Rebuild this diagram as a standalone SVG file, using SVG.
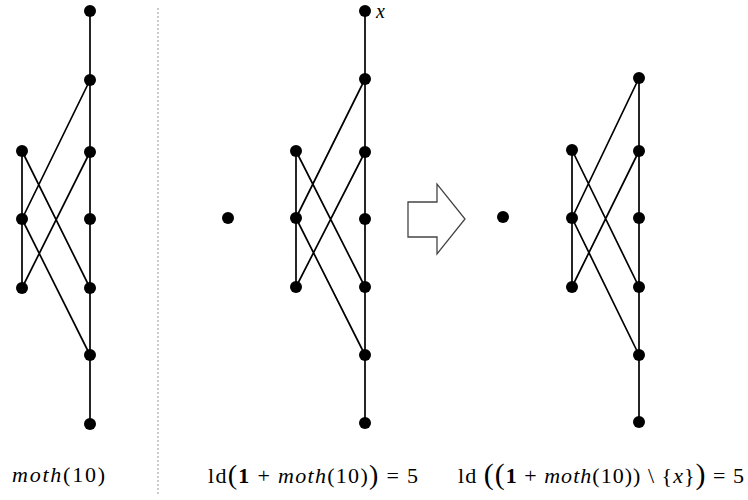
<svg xmlns="http://www.w3.org/2000/svg" width="748" height="500" viewBox="0 0 748 500">
<style>
.e{stroke:#000;stroke-width:1.7;fill:none}
.n{fill:#000}
.t{font-family:"Liberation Serif","DejaVu Serif",serif;font-size:22px;fill:#000}
.i{font-style:italic}
.b{font-weight:bold}
</style>
<rect width="748" height="500" fill="#fff"/>
<line x1="158" y1="8" x2="158" y2="496" stroke="#aaa" stroke-width="1.2" stroke-dasharray="2,2"/>
<g id="connectors">
<path class="e" d="M90 11V424M22 151V288M90 80L22 219M90 152L22 288M22 151L90 288M22 219L90 355"/>
<path class="e" d="M365 11V423M296 151V287M365 79L296 218M365 152L296 287M296 151L365 287M296 218L365 355"/>
<path class="e" d="M639 78V422M572 150V287M639 78L572 218M639 151L572 287M572 150L639 287M572 218L639 355"/>
</g>
<g id="graph-moth10">
<circle class="n" cx="90" cy="11" r="6"/><circle class="n" cx="90" cy="80" r="6"/><circle class="n" cx="90" cy="152" r="6"/><circle class="n" cx="90" cy="219" r="6"/><circle class="n" cx="90" cy="288" r="6"/><circle class="n" cx="90" cy="355" r="6"/><circle class="n" cx="90" cy="424" r="6"/>
<circle class="n" cx="22" cy="151" r="6"/><circle class="n" cx="22" cy="219" r="6"/><circle class="n" cx="22" cy="288" r="6"/>
</g>
<g id="graph-1-plus-moth10">
<circle class="n" cx="228" cy="218" r="6"/>
<circle class="n" cx="365" cy="11" r="6"/><circle class="n" cx="365" cy="79" r="6"/><circle class="n" cx="365" cy="152" r="6"/><circle class="n" cx="365" cy="219" r="6"/><circle class="n" cx="365" cy="287" r="6"/><circle class="n" cx="365" cy="355" r="6"/><circle class="n" cx="365" cy="423" r="6"/>
<circle class="n" cx="296" cy="151" r="6"/><circle class="n" cx="296" cy="218" r="6"/><circle class="n" cx="296" cy="287" r="6"/>
<text class="t i" x="376" y="18" style="font-size:20px">x</text>
</g>
<g id="arrow">
<polygon points="408,202 437,202 437,184 465,219 437,254 437,237 408,237" fill="#fff" stroke="#444" stroke-width="1.3"/>
</g>
<g id="graph-minus-x">
<circle class="n" cx="503" cy="217" r="6"/>
<circle class="n" cx="639" cy="78" r="6"/><circle class="n" cx="639" cy="151" r="6"/><circle class="n" cx="639" cy="218" r="6"/><circle class="n" cx="639" cy="287" r="6"/><circle class="n" cx="639" cy="355" r="6"/><circle class="n" cx="639" cy="422" r="6"/>
<circle class="n" cx="572" cy="150" r="6"/><circle class="n" cx="572" cy="218" r="6"/><circle class="n" cx="572" cy="287" r="6"/>
</g>
<g id="labels">
<text class="t" x="12" y="482" textLength="93" lengthAdjust="spacing"><tspan class="i">moth</tspan>(10)</text>
<text class="t" x="208" y="483" textLength="210" lengthAdjust="spacing">ld<tspan font-size="28" dy="1">(</tspan><tspan class="b" dy="-1">1</tspan> + <tspan class="i">moth</tspan>(10)<tspan font-size="28" dy="1">)</tspan><tspan dy="-1"> = 5</tspan></text>
<text class="t" x="458" y="483" textLength="286" lengthAdjust="spacing">ld <tspan font-size="30" dy="1">((</tspan><tspan class="b" dy="-1">1</tspan> + <tspan class="i">moth</tspan>(10)) \ {<tspan class="i">x</tspan>}<tspan font-size="30" dy="1">)</tspan><tspan dy="-1"> = 5</tspan></text>
</g>
</svg>
